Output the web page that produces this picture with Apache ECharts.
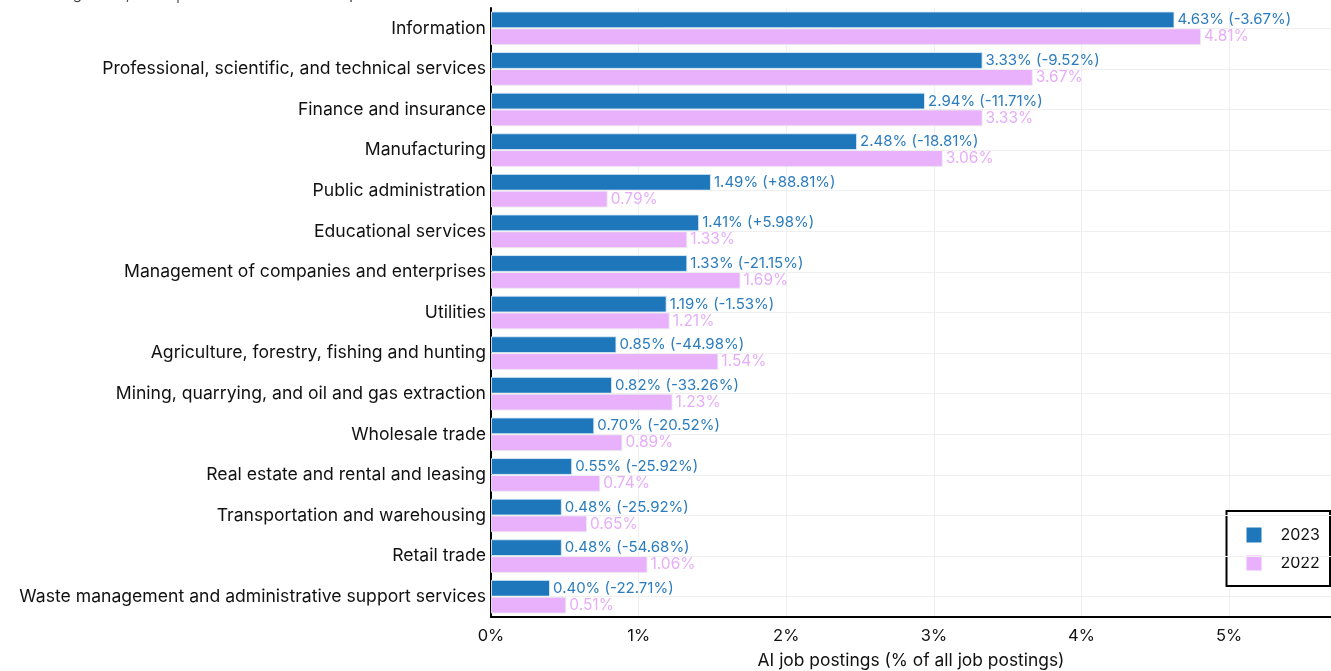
<!DOCTYPE html>
<html><head><meta charset="utf-8">
<script src="https://cdn.jsdelivr.net/npm/echarts@6/dist/echarts.min.js"></script>
<style>html,body{margin:0;padding:0;background:#fff}#c{width:1331px;height:671px}</style>
</head><body><div id="c"></div>
<script>
const categories = [
  "Information",
  "Professional, scientific, and technical services",
  "Finance and insurance",
  "Manufacturing",
  "Public administration",
  "Educational services",
  "Management of companies and enterprises",
  "Utilities",
  "Agriculture, forestry, fishing and hunting",
  "Mining, quarrying, and oil and gas extraction",
  "Wholesale trade",
  "Real estate and rental and leasing",
  "Transportation and warehousing",
  "Retail trade",
  "Waste management and administrative support services"
];
const values2023 = [4.63, 3.33, 2.94, 2.48, 1.49, 1.41, 1.33, 1.19, 0.85, 0.82, 0.70, 0.55, 0.48, 0.48, 0.40];
const changes2023 = ["-3.67%", "-9.52%", "-11.71%", "-18.81%", "+88.81%", "+5.98%", "-21.15%", "-1.53%", "-44.98%", "-33.26%", "-20.52%", "-25.92%", "-25.92%", "-54.68%", "-22.71%"];
const values2022 = [4.81, 3.67, 3.33, 3.06, 0.79, 1.33, 1.69, 1.21, 1.54, 1.23, 0.89, 0.74, 0.65, 1.06, 0.51];
const xTicks = [0, 1, 2, 3, 4, 5];

const FONT = "Inter, 'DejaVu Sans', sans-serif";
const BLUE = "#1f77bb";
const PINK = "#e9b0fb";

const chart = echarts.init(document.getElementById('c'), null, {renderer: 'canvas'});
chart.setOption({
  animation: false,
  textStyle: {fontFamily: FONT},
  graphic: [{
    type: 'text', left: 2, top: -13, silent: true,
    style: {text: 'Source: Lightcast, 2023 | Chart: 2024 AI Index report', fill: '#444', font: '15px ' + FONT}
  }],
  grid: {left: 491, right: 0, top: 8, bottom: 54, containLabel: false, outerBoundsMode: 'none'},
  legend: {
    orient: 'vertical', right: 1, bottom: 85,
    data: ['2023', '2022'],
    icon: 'rect', itemWidth: 15, itemHeight: 15, itemGap: 12,
    borderColor: '#000', borderWidth: 2, borderRadius: 0,
    padding: [16, 10, 15, 20],
    backgroundColor: '#fff',
    textStyle: {fontSize: 16, color: '#111', fontFamily: FONT, padding: [0, 0, 0, 14]},
    itemStyle: {borderWidth: 0}
  },
  xAxis: {
    type: 'value', min: 0, max: 5.69, interval: 1,
    name: 'AI job postings (% of all job postings)',
    nameLocation: 'middle', nameGap: 35,
    nameTextStyle: {fontSize: 17.4, color: '#111', fontFamily: FONT},
    axisLine: {show: true, lineStyle: {color: '#000', width: 2}},
    axisTick: {show: false},
    axisLabel: {
      fontSize: 16.5, color: '#111', margin: 11, fontFamily: FONT, showMaxLabel: false,
      formatter: v => (xTicks.indexOf(v) >= 0 ? v + '%' : '')
    },
    splitLine: {show: true, lineStyle: {color: '#efefef', width: 1}}
  },
  yAxis: {
    type: 'category', data: categories, inverse: true,
    axisLine: {show: true, lineStyle: {color: '#000', width: 2}},
    axisTick: {show: false},
    axisLabel: {fontSize: 17.6, color: '#111', margin: 5, fontFamily: FONT},
    splitLine: {show: false}
  },
  series: [
    {
      name: 'grid', type: 'line', data: [], z: 0, silent: true, showSymbol: false,
      markLine: {
        silent: true, symbol: 'none', animation: false,
        label: {show: false},
        lineStyle: {color: '#efefef', width: 1, type: 'solid'},
        data: categories.map(c => ({yAxis: c}))
      }
    },
    {
      name: '2023', type: 'bar', data: values2023, z: 2,
      barGap: '0%', barCategoryGap: '17%',
      itemStyle: {color: BLUE, borderColor: 'rgba(220,235,250,0.9)', borderWidth: 1},
      label: {
        show: true, position: 'right', distance: 3, color: '#2a7cbe', fontSize: 15, fontFamily: FONT,
        formatter: p => p.value.toFixed(2) + '% (' + changes2023[p.dataIndex] + ')'
      }
    },
    {
      name: '2022', type: 'bar', data: values2022, z: 2,
      barGap: '0%', barCategoryGap: '17%',
      itemStyle: {color: PINK, borderColor: 'rgba(235,235,240,0.9)', borderWidth: 1},
      label: {
        show: true, position: 'right', distance: 3, color: '#e6aef8', fontSize: 15.5, fontFamily: FONT,
        formatter: p => p.value.toFixed(2) + '%'
      }
    }
  ]
});
</script></body></html>
